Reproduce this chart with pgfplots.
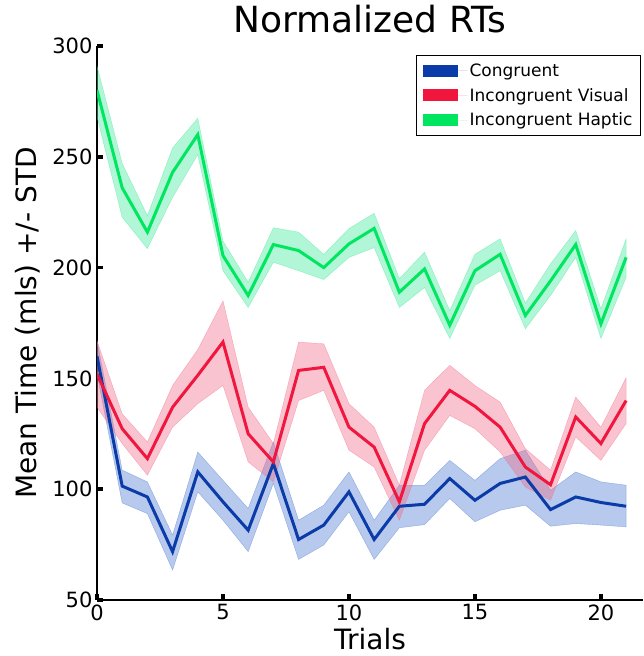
\documentclass[border=0pt]{standalone}
\usepackage{pgfplots}
\pgfplotsset{compat=1.18}
\usepackage{pgfplotstable}
\usepgfplotslibrary{fillbetween}
\usepackage{fontspec}
\setmainfont{DejaVu Sans}

\definecolor{cblue}{HTML}{0B3BA8}
\definecolor{cred}{HTML}{F0163E}
\definecolor{cgreen}{HTML}{00E660}
\definecolor{cbluef}{HTML}{4A78D0}
\definecolor{credf}{HTML}{F06A88}
\definecolor{cgreenf}{HTML}{3DE898}

% trial, mean, mean - std, mean + std
\pgfplotstableread{
x m lo hi
0 160 152 167
1 101.4 93.8 108.6
2 96.5 89 103.3
3 71.8 63.5 79.3
4 107.8 98.8 116.8
5 94.3 86 104
6 81.5 71.8 91.3
7 111.6 102.6 121.3
8 77.3 68.3 86
9 83.8 74.8 92.8
10 98.8 89.8 107.8
11 77.3 68.3 86
12 92.3 82.6 101.8
13 93.2 84 101.8
14 104.8 95.8 113
15 95 85.3 104
16 102.6 90.5 113.8
17 105.5 92.8 117.6
18 90.8 83.3 99.5
19 96.5 84.5 107.8
20 94 83.8 103.3
21 92.3 83 101.8
}\congruent

\pgfplotstableread{
x m lo hi
0 152 137 167
1 127.3 120.6 134
2 113.8 106.3 121.3
3 137 128 146.8
4 151.4 138.6 163
5 166.4 146.8 185
6 125 112.3 137
7 112.3 103.3 120.6
8 153.6 140 166.4
9 155 144.6 165.6
10 128 117.6 138.6
11 119 110 128
12 94.3 86 101.8
13 129.6 117.6 144.6
14 144.6 133.3 155.9
15 137.4 127.3 146.8
16 128 116.8 139.3
17 110 101 118.3
18 102 95 108.6
19 132.6 123.6 141.6
20 120.6 113 128
21 140 129.6 150.3
}\visual

\pgfplotstableread{
x m lo hi
0 280 268 291
1 236 222.7 247
2 216 208.6 223.4
3 243 231.7 254
4 260 251 267.4
5 205.4 198.6 212
6 187.4 182 193.4
7 210.4 202.4 218
8 207.7 198.6 216
9 200 194.6 206
10 210.7 204.6 217.6
11 217.7 209 224.5
12 188.9 182 195
13 199.4 191 207
14 174 168 180.6
15 198.6 192 206
16 206 198.6 213
17 178.4 172.4 184
18 194 187.4 201.7
19 210.4 204.6 216.7
20 174.6 168 181.4
21 204.6 195.6 213
}\haptic

\begin{document}
\begin{tikzpicture}
\begin{axis}[
  scale only axis,
  width=546pt, height=554pt,
  xmin=0, xmax=21.67, ymin=50, ymax=300,
  axis lines*=left,
  axis line style={line width=2pt, black},
  xtick={0,5,10,15,20}, ytick={50,100,...,300},
  tick align=inside,
  major tick length=5.5pt,
  tick style={black, line width=3.5pt},
  /pgf/number format/assume math mode=true,
  ticklabel style={font=\fontsize{21}{21}\selectfont},
  xticklabel style={yshift=-1pt},
  yticklabel style={xshift=-1pt},
  title={Normalized RTs},
  title style={font=\fontsize{36}{36}\selectfont, at={(0.5,1)}, anchor=base, yshift=7pt},
  xlabel={Trials},
  xlabel style={font=\fontsize{28}{28}\selectfont, at={(axis description cs:0.5,0)}, anchor=base, yshift=-49.5pt},
  ylabel={Mean Time (mls) +/- STD},
  ylabel style={font=\fontsize{28}{28}\selectfont, at={(axis description cs:-0.1264,0.5)}, anchor=center},
  legend cell align=left,
  legend image code/.code={\fill[#1] (0pt,-6pt) rectangle (35pt,6pt); \path (0pt,0pt) -- (45pt,0pt);},
  legend style={at={(rel axis cs:1,1)}, anchor=north east, xshift=-2pt, yshift=-9pt,
    font=\fontsize{17}{17}\selectfont, draw=black, line width=1pt,
    row sep=6.5pt, inner xsep=6pt, inner ysep=6pt},
]
% Congruent
\addplot[name path=bU, draw=none, forget plot] table[x=x, y=hi]{\congruent};
\addplot[name path=bL, draw=none, forget plot] table[x=x, y=lo]{\congruent};
\addplot[fill=cbluef, fill opacity=0.4, draw=cbluef, draw opacity=0.5, forget plot] fill between[of=bU and bL];
\addplot[cblue, line width=3pt, forget plot] table[x=x, y=m]{\congruent};
% Incongruent visual
\addplot[name path=rU, draw=none, forget plot] table[x=x, y=hi]{\visual};
\addplot[name path=rL, draw=none, forget plot] table[x=x, y=lo]{\visual};
\addplot[fill=credf, fill opacity=0.4, draw=credf, draw opacity=0.5, forget plot] fill between[of=rU and rL];
\addplot[cred, line width=3pt, forget plot] table[x=x, y=m]{\visual};
% Incongruent haptic
\addplot[name path=gU, draw=none, forget plot] table[x=x, y=hi]{\haptic};
\addplot[name path=gL, draw=none, forget plot] table[x=x, y=lo]{\haptic};
\addplot[fill=cgreenf, fill opacity=0.4, draw=cgreenf, draw opacity=0.5, forget plot] fill between[of=gU and gL];
\addplot[cgreen, line width=3pt, forget plot] table[x=x, y=m]{\haptic};

\addlegendimage{fill=cblue, draw=none}
\addlegendentry{Congruent}
\addlegendimage{fill=cred, draw=none}
\addlegendentry{Incongruent Visual}
\addlegendimage{fill=cgreen, draw=none}
\addlegendentry{Incongruent Haptic}
\end{axis}
\pgfresetboundingbox
\path[use as bounding box] (-97pt,-56pt) rectangle (546pt,600pt);
\end{tikzpicture}
\end{document}
